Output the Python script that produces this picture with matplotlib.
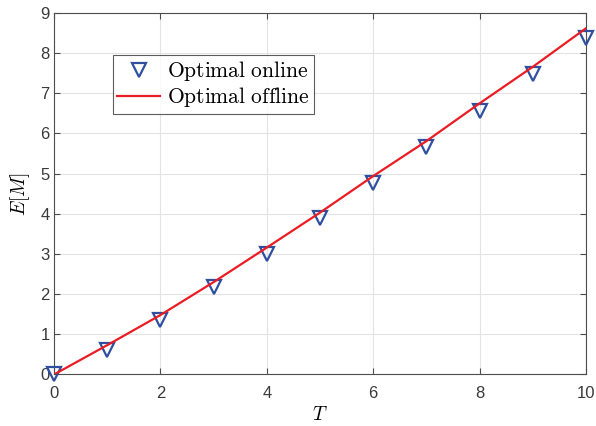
import matplotlib
matplotlib.use("Agg")
import matplotlib.pyplot as plt

# Expected number of messages vs. horizon T
T = [0, 1, 2, 3, 4, 5, 6, 7, 8, 9, 10]
online = [0.0, 0.62, 1.36, 2.18, 3.00, 3.89, 4.76, 5.66, 6.55, 7.47, 8.37]
offline = [0.0, 0.73, 1.48, 2.30, 3.16, 4.03, 4.94, 5.81, 6.75, 7.66, 8.62]
xticks = [0, 2, 4, 6, 8, 10]
yticks = [0, 1, 2, 3, 4, 5, 6, 7, 8, 9]

plt.rcParams["mathtext.fontset"] = "cm"
plt.rcParams["font.family"] = ["Liberation Sans", "DejaVu Sans"]

fig = plt.figure(figsize=(5.96, 4.26), dpi=100)
ax = fig.add_axes([0.0906, 0.1209, 0.8926, 0.8486])

axcol = "#4d4d4d"
ax.plot(T, online, linestyle="none", marker="v", markersize=10.5,
        markerfacecolor="none", markeredgecolor="#2f4fa0", markeredgewidth=1.6,
        label=r"$\mathrm{Optimal\ online}$", zorder=3, clip_on=False)
ax.plot(T, offline, color="#ea1c24", linewidth=1.6,
        label=r"$\mathrm{Optimal\ offline}$", zorder=4)

ax.set_xlim(0, 10)
ax.set_ylim(0, 9)
ax.set_xticks(xticks)
ax.set_yticks(yticks)
ax.grid(True, color="#e3e3e3", linewidth=0.8)
ax.set_axisbelow(True)
ax.tick_params(direction="in", top=True, right=True, length=4, width=0.8,
               colors=axcol, labelsize=12, labelcolor="#3a3a3a")
ax.tick_params(axis="x", pad=8)
ax.tick_params(axis="y", pad=3)
for s in ax.spines.values():
    s.set_color(axcol)
    s.set_linewidth(0.8)

ax.set_xlabel(r"$T$", fontsize=14, labelpad=4)
ax.set_ylabel(r"$E[M]$", fontsize=14, labelpad=6)

leg = ax.legend(loc="upper left", bbox_to_anchor=(0.111, 0.884), borderaxespad=0,
                fontsize=15.5, frameon=True, fancybox=False, edgecolor="#333333",
                handlelength=2.0, handletextpad=0.3, borderpad=0.2,
                labelspacing=0.1)
leg.get_frame().set_linewidth(0.8)
leg.get_frame().set_width(leg.get_frame().get_width())

fig.savefig("out.png", dpi=100)
